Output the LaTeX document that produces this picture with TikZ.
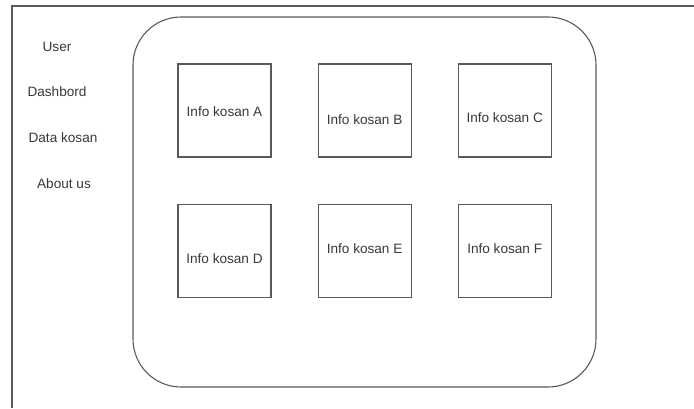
\documentclass[tikz,border=0pt]{standalone}
\usepackage{fontspec}
\setmainfont{Liberation Sans}
\usetikzlibrary{positioning}

\begin{document}
\begin{tikzpicture}[
  x=1pt, y=1pt,
  font=\fontsize{13.6}{16}\selectfont,
  every node/.style={text=black!78},
  frame/.style={draw=black!65, line width=1.1pt},
  menuitem/.style={inner sep=0pt, anchor=center},
  kosbox/.style={
    draw=black!65,
    line width=1.1pt,
    minimum width=93pt,
    minimum height=93pt,
    inner sep=0pt
  },
  kostext/.style={inner sep=0pt},
  node distance=46pt and 46pt
]
\useasboundingbox (0,0) rectangle (694,408);

% outer window
\coordinate (win-top) at (694,402);
\coordinate (win-corner) at (12,402);
\coordinate (win-bottom) at (12,0);
\draw[frame] (win-top) -- (win-corner) -- (win-bottom);

% side menu
\node[menuitem] (user) at (57,361) {User};
\node[menuitem] (dashbord) at (57,316) {Dashbord};
\node[menuitem] (datakosan) at (63,270) {Data kosan};
\node[menuitem] (aboutus) at (64,224) {About us};

% content panel
\draw[frame, rounded corners=48pt] (133,391) rectangle (596,21);

% grid of kosan cards
\node[kosbox] (kosA) at (224.5,297.5) {};
\node[kosbox, right=of kosA] (kosB) {};
\node[kosbox, right=of kosB] (kosC) {};
\node[kosbox, below=of kosA] (kosD) {};
\node[kosbox, right=of kosD] (kosE) {};
\node[kosbox, right=of kosE] (kosF) {};

\node[kostext] (lblA) at ([yshift=-1pt]kosA.center) {Info kosan A};
\node[kostext] (lblB) at ([yshift=-9pt]kosB.center) {Info kosan B};
\node[kostext] (lblC) at ([yshift=-7pt]kosC.center) {Info kosan C};
\node[kostext] (lblD) at ([yshift=-8pt]kosD.center) {Info kosan D};
\node[kostext] (lblE) at ([yshift=2pt]kosE.center) {Info kosan E};
\node[kostext] (lblF) at ([yshift=2pt]kosF.center) {Info kosan F};
\end{tikzpicture}
\end{document}
